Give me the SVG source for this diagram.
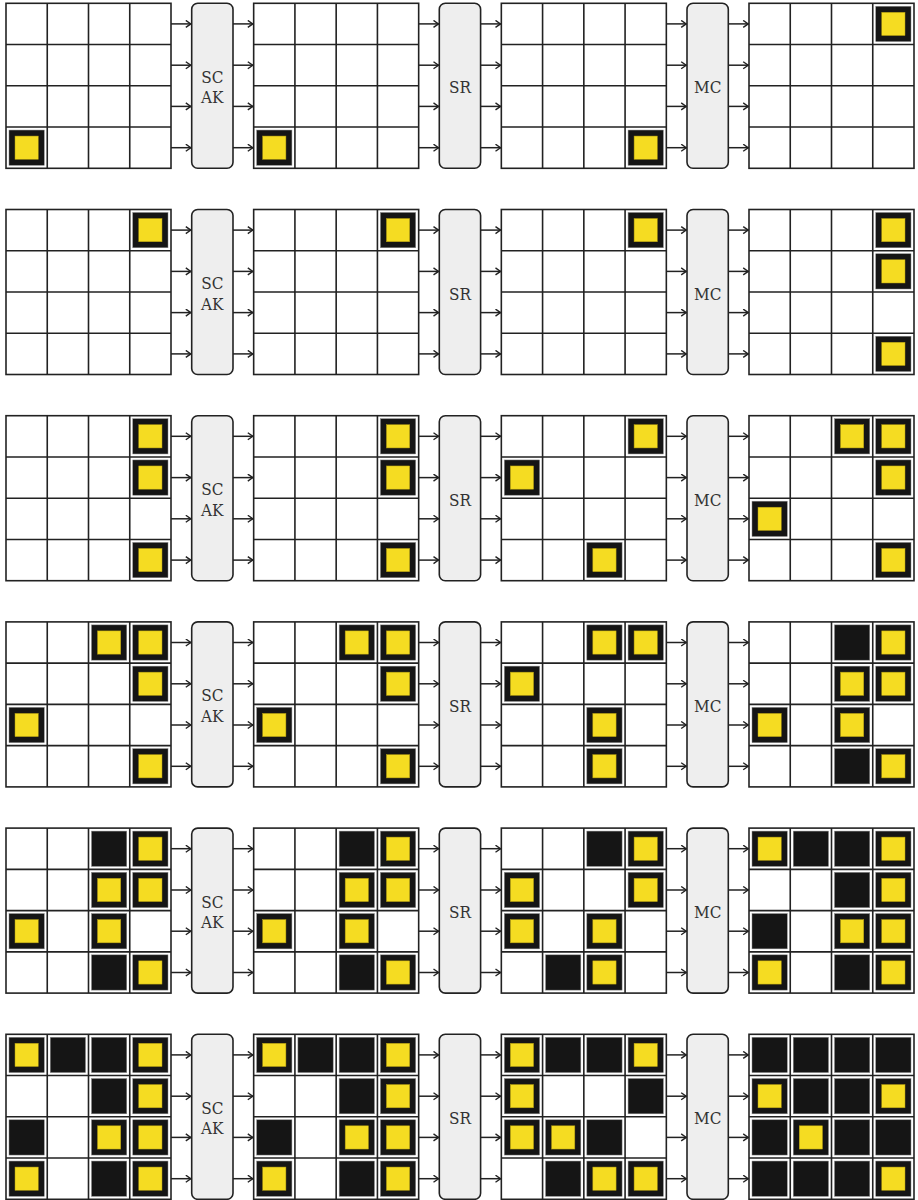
<svg xmlns="http://www.w3.org/2000/svg" xmlns:xlink="http://www.w3.org/1999/xlink" width="918" height="1200" viewBox="0 0 918 1200">
<style>
.gl{fill:none;stroke:#222;stroke-width:1.6}
.bg{fill:#fff}
.blk{fill:#151515;stroke:#888;stroke-width:0.5}
.yel{fill:#f5dc22;stroke:#b09a10;stroke-width:0.5}
.box{fill:#eeeeee;stroke:#222;stroke-width:1.6}
.lbl{font-family:"DejaVu Serif Condensed","DejaVu Serif",serif;font-size:17px;fill:#333;text-anchor:middle}
.ar{stroke:#222;stroke-width:1.5;fill:none;marker-end:url(#ah)}
</style>
<defs>
<marker id="ah" markerUnits="userSpaceOnUse" markerWidth="10" markerHeight="10" refX="6.5" refY="4" orient="auto">
<path d="M1,0.5 L6,4 L1,7.5" fill="none" stroke="#222" stroke-width="1.4"/>
</marker>
<g id="lines">
<rect class="gl" x="0" y="0" width="165" height="165"/>
<path class="gl" d="M41.25,0V165M82.5,0V165M123.75,0V165M0,41.25H165M0,82.5H165M0,123.75H165"/>
</g>
<g id="Y"><rect class="blk" x="3" y="3" width="35.25" height="35.25"/><rect class="yel" x="9" y="9" width="23.25" height="23.25"/></g>
<g id="B"><rect class="blk" x="3" y="3" width="35.25" height="35.25"/></g>
<g id="rowArrows">
<path class="ar" d="M171,20.6H191.3"/><path class="ar" d="M171,61.9H191.3"/><path class="ar" d="M171,103.1H191.3"/><path class="ar" d="M171,144.4H191.3"/>
<path class="ar" d="M233,20.6H253.3"/><path class="ar" d="M233,61.9H253.3"/><path class="ar" d="M233,103.1H253.3"/><path class="ar" d="M233,144.4H253.3"/>
<path class="ar" d="M418.7,20.6H439"/><path class="ar" d="M418.7,61.9H439"/><path class="ar" d="M418.7,103.1H439"/><path class="ar" d="M418.7,144.4H439"/>
<path class="ar" d="M480.7,20.6H501"/><path class="ar" d="M480.7,61.9H501"/><path class="ar" d="M480.7,103.1H501"/><path class="ar" d="M480.7,144.4H501"/>
<path class="ar" d="M666.3,20.6H686.7"/><path class="ar" d="M666.3,61.9H686.7"/><path class="ar" d="M666.3,103.1H686.7"/><path class="ar" d="M666.3,144.4H686.7"/>
<path class="ar" d="M728.3,20.6H748.7"/><path class="ar" d="M728.3,61.9H748.7"/><path class="ar" d="M728.3,103.1H748.7"/><path class="ar" d="M728.3,144.4H748.7"/>
</g>
</defs>
<rect width="918" height="1200" fill="#fff"/>

<g id="connectors">
<use href="#rowArrows" y="3.3"/>
<use href="#rowArrows" y="209.5"/>
<use href="#rowArrows" y="415.7"/>
<use href="#rowArrows" y="621.9"/>
<use href="#rowArrows" y="828.1"/>
<use href="#rowArrows" y="1034.3"/>
</g>

<!-- Row 1 -->
<g id="r1g1" transform="translate(6,3.3)"><rect class="bg" width="165" height="165"/><use href="#Y" x="0" y="123.75"/><use href="#lines"/></g>
<g id="r1sc" ><rect class="box" x="191.7" y="3.3" width="41.3" height="165" rx="6"/><text class="lbl"><tspan x="212.3" y="82.8">SC</tspan><tspan x="212.3" y="103.3">AK</tspan></text></g>
<g id="r1g2" transform="translate(253.67,3.3)"><rect class="bg" width="165" height="165"/><use href="#Y" x="0" y="123.75"/><use href="#lines"/></g>
<g id="r1sr"><rect class="box" x="439.3" y="3.3" width="41.3" height="165" rx="6"/><text class="lbl" x="460" y="93.3">SR</text></g>
<g id="r1g3" transform="translate(501.33,3.3)"><rect class="bg" width="165" height="165"/><use href="#Y" x="123.75" y="123.75"/><use href="#lines"/></g>
<g id="r1mc"><rect class="box" x="687" y="3.3" width="41.3" height="165" rx="6"/><text class="lbl" x="707.7" y="93.3">MC</text></g>
<g id="r1g4" transform="translate(749,3.3)"><rect class="bg" width="165" height="165"/><use href="#Y" x="123.75" y="0"/><use href="#lines"/></g>

<!-- Row 2 -->
<g id="r2g1" transform="translate(6,209.5)"><rect class="bg" width="165" height="165"/><use href="#Y" x="123.75" y="0"/><use href="#lines"/></g>
<g id="r2sc"><rect class="box" x="191.7" y="209.5" width="41.3" height="165" rx="6"/><text class="lbl"><tspan x="212.3" y="289">SC</tspan><tspan x="212.3" y="309.5">AK</tspan></text></g>
<g id="r2g2" transform="translate(253.67,209.5)"><rect class="bg" width="165" height="165"/><use href="#Y" x="123.75" y="0"/><use href="#lines"/></g>
<g id="r2sr"><rect class="box" x="439.3" y="209.5" width="41.3" height="165" rx="6"/><text class="lbl" x="460" y="299.5">SR</text></g>
<g id="r2g3" transform="translate(501.33,209.5)"><rect class="bg" width="165" height="165"/><use href="#Y" x="123.75" y="0"/><use href="#lines"/></g>
<g id="r2mc"><rect class="box" x="687" y="209.5" width="41.3" height="165" rx="6"/><text class="lbl" x="707.7" y="299.5">MC</text></g>
<g id="r2g4" transform="translate(749,209.5)"><rect class="bg" width="165" height="165"/><use href="#Y" x="123.75" y="0"/><use href="#Y" x="123.75" y="41.25"/><use href="#Y" x="123.75" y="123.75"/><use href="#lines"/></g>

<!-- Row 3 -->
<g id="r3g1" transform="translate(6,415.7)"><rect class="bg" width="165" height="165"/><use href="#Y" x="123.75" y="0"/><use href="#Y" x="123.75" y="41.25"/><use href="#Y" x="123.75" y="123.75"/><use href="#lines"/></g>
<g id="r3sc"><rect class="box" x="191.7" y="415.7" width="41.3" height="165" rx="6"/><text class="lbl"><tspan x="212.3" y="495.2">SC</tspan><tspan x="212.3" y="515.7">AK</tspan></text></g>
<g id="r3g2" transform="translate(253.67,415.7)"><rect class="bg" width="165" height="165"/><use href="#Y" x="123.75" y="0"/><use href="#Y" x="123.75" y="41.25"/><use href="#Y" x="123.75" y="123.75"/><use href="#lines"/></g>
<g id="r3sr"><rect class="box" x="439.3" y="415.7" width="41.3" height="165" rx="6"/><text class="lbl" x="460" y="505.7">SR</text></g>
<g id="r3g3" transform="translate(501.33,415.7)"><rect class="bg" width="165" height="165"/><use href="#Y" x="123.75" y="0"/><use href="#Y" x="0" y="41.25"/><use href="#Y" x="82.5" y="123.75"/><use href="#lines"/></g>
<g id="r3mc"><rect class="box" x="687" y="415.7" width="41.3" height="165" rx="6"/><text class="lbl" x="707.7" y="505.7">MC</text></g>
<g id="r3g4" transform="translate(749,415.7)"><rect class="bg" width="165" height="165"/><use href="#Y" x="82.5" y="0"/><use href="#Y" x="123.75" y="0"/><use href="#Y" x="123.75" y="41.25"/><use href="#Y" x="0" y="82.5"/><use href="#Y" x="123.75" y="123.75"/><use href="#lines"/></g>

<!-- Row 4 -->
<g id="r4g1" transform="translate(6,621.9)"><rect class="bg" width="165" height="165"/><use href="#Y" x="82.5" y="0"/><use href="#Y" x="123.75" y="0"/><use href="#Y" x="123.75" y="41.25"/><use href="#Y" x="0" y="82.5"/><use href="#Y" x="123.75" y="123.75"/><use href="#lines"/></g>
<g id="r4sc"><rect class="box" x="191.7" y="621.9" width="41.3" height="165" rx="6"/><text class="lbl"><tspan x="212.3" y="701.4">SC</tspan><tspan x="212.3" y="721.9">AK</tspan></text></g>
<g id="r4g2" transform="translate(253.67,621.9)"><rect class="bg" width="165" height="165"/><use href="#Y" x="82.5" y="0"/><use href="#Y" x="123.75" y="0"/><use href="#Y" x="123.75" y="41.25"/><use href="#Y" x="0" y="82.5"/><use href="#Y" x="123.75" y="123.75"/><use href="#lines"/></g>
<g id="r4sr"><rect class="box" x="439.3" y="621.9" width="41.3" height="165" rx="6"/><text class="lbl" x="460" y="711.9">SR</text></g>
<g id="r4g3" transform="translate(501.33,621.9)"><rect class="bg" width="165" height="165"/><use href="#Y" x="82.5" y="0"/><use href="#Y" x="123.75" y="0"/><use href="#Y" x="0" y="41.25"/><use href="#Y" x="82.5" y="82.5"/><use href="#Y" x="82.5" y="123.75"/><use href="#lines"/></g>
<g id="r4mc"><rect class="box" x="687" y="621.9" width="41.3" height="165" rx="6"/><text class="lbl" x="707.7" y="711.9">MC</text></g>
<g id="r4g4" transform="translate(749,621.9)"><rect class="bg" width="165" height="165"/><use href="#B" x="82.5" y="0"/><use href="#Y" x="123.75" y="0"/><use href="#Y" x="82.5" y="41.25"/><use href="#Y" x="123.75" y="41.25"/><use href="#Y" x="0" y="82.5"/><use href="#Y" x="82.5" y="82.5"/><use href="#B" x="82.5" y="123.75"/><use href="#Y" x="123.75" y="123.75"/><use href="#lines"/></g>

<!-- Row 5 -->
<g id="r5g1" transform="translate(6,828.1)"><rect class="bg" width="165" height="165"/><use href="#B" x="82.5" y="0"/><use href="#Y" x="123.75" y="0"/><use href="#Y" x="82.5" y="41.25"/><use href="#Y" x="123.75" y="41.25"/><use href="#Y" x="0" y="82.5"/><use href="#Y" x="82.5" y="82.5"/><use href="#B" x="82.5" y="123.75"/><use href="#Y" x="123.75" y="123.75"/><use href="#lines"/></g>
<g id="r5sc"><rect class="box" x="191.7" y="828.1" width="41.3" height="165" rx="6"/><text class="lbl"><tspan x="212.3" y="907.6">SC</tspan><tspan x="212.3" y="928.1">AK</tspan></text></g>
<g id="r5g2" transform="translate(253.67,828.1)"><rect class="bg" width="165" height="165"/><use href="#B" x="82.5" y="0"/><use href="#Y" x="123.75" y="0"/><use href="#Y" x="82.5" y="41.25"/><use href="#Y" x="123.75" y="41.25"/><use href="#Y" x="0" y="82.5"/><use href="#Y" x="82.5" y="82.5"/><use href="#B" x="82.5" y="123.75"/><use href="#Y" x="123.75" y="123.75"/><use href="#lines"/></g>
<g id="r5sr"><rect class="box" x="439.3" y="828.1" width="41.3" height="165" rx="6"/><text class="lbl" x="460" y="918.1">SR</text></g>
<g id="r5g3" transform="translate(501.33,828.1)"><rect class="bg" width="165" height="165"/><use href="#B" x="82.5" y="0"/><use href="#Y" x="123.75" y="0"/><use href="#Y" x="0" y="41.25"/><use href="#Y" x="123.75" y="41.25"/><use href="#Y" x="0" y="82.5"/><use href="#Y" x="82.5" y="82.5"/><use href="#B" x="41.25" y="123.75"/><use href="#Y" x="82.5" y="123.75"/><use href="#lines"/></g>
<g id="r5mc"><rect class="box" x="687" y="828.1" width="41.3" height="165" rx="6"/><text class="lbl" x="707.7" y="918.1">MC</text></g>
<g id="r5g4" transform="translate(749,828.1)"><rect class="bg" width="165" height="165"/><use href="#Y" x="0" y="0"/><use href="#B" x="41.25" y="0"/><use href="#B" x="82.5" y="0"/><use href="#Y" x="123.75" y="0"/><use href="#B" x="82.5" y="41.25"/><use href="#Y" x="123.75" y="41.25"/><use href="#B" x="0" y="82.5"/><use href="#Y" x="82.5" y="82.5"/><use href="#Y" x="123.75" y="82.5"/><use href="#Y" x="0" y="123.75"/><use href="#B" x="82.5" y="123.75"/><use href="#Y" x="123.75" y="123.75"/><use href="#lines"/></g>

<!-- Row 6 -->
<g id="r6g1" transform="translate(6,1034.3)"><rect class="bg" width="165" height="165"/><use href="#Y" x="0" y="0"/><use href="#B" x="41.25" y="0"/><use href="#B" x="82.5" y="0"/><use href="#Y" x="123.75" y="0"/><use href="#B" x="82.5" y="41.25"/><use href="#Y" x="123.75" y="41.25"/><use href="#B" x="0" y="82.5"/><use href="#Y" x="82.5" y="82.5"/><use href="#Y" x="123.75" y="82.5"/><use href="#Y" x="0" y="123.75"/><use href="#B" x="82.5" y="123.75"/><use href="#Y" x="123.75" y="123.75"/><use href="#lines"/></g>
<g id="r6sc"><rect class="box" x="191.7" y="1034.3" width="41.3" height="165" rx="6"/><text class="lbl"><tspan x="212.3" y="1113.8">SC</tspan><tspan x="212.3" y="1134.3">AK</tspan></text></g>
<g id="r6g2" transform="translate(253.67,1034.3)"><rect class="bg" width="165" height="165"/><use href="#Y" x="0" y="0"/><use href="#B" x="41.25" y="0"/><use href="#B" x="82.5" y="0"/><use href="#Y" x="123.75" y="0"/><use href="#B" x="82.5" y="41.25"/><use href="#Y" x="123.75" y="41.25"/><use href="#B" x="0" y="82.5"/><use href="#Y" x="82.5" y="82.5"/><use href="#Y" x="123.75" y="82.5"/><use href="#Y" x="0" y="123.75"/><use href="#B" x="82.5" y="123.75"/><use href="#Y" x="123.75" y="123.75"/><use href="#lines"/></g>
<g id="r6sr"><rect class="box" x="439.3" y="1034.3" width="41.3" height="165" rx="6"/><text class="lbl" x="460" y="1124.3">SR</text></g>
<g id="r6g3" transform="translate(501.33,1034.3)"><rect class="bg" width="165" height="165"/><use href="#Y" x="0" y="0"/><use href="#B" x="41.25" y="0"/><use href="#B" x="82.5" y="0"/><use href="#Y" x="123.75" y="0"/><use href="#Y" x="0" y="41.25"/><use href="#B" x="123.75" y="41.25"/><use href="#Y" x="0" y="82.5"/><use href="#Y" x="41.25" y="82.5"/><use href="#B" x="82.5" y="82.5"/><use href="#B" x="41.25" y="123.75"/><use href="#Y" x="82.5" y="123.75"/><use href="#Y" x="123.75" y="123.75"/><use href="#lines"/></g>
<g id="r6mc"><rect class="box" x="687" y="1034.3" width="41.3" height="165" rx="6"/><text class="lbl" x="707.7" y="1124.3">MC</text></g>
<g id="r6g4" transform="translate(749,1034.3)"><rect class="bg" width="165" height="165"/><use href="#B" x="0" y="0"/><use href="#B" x="41.25" y="0"/><use href="#B" x="82.5" y="0"/><use href="#B" x="123.75" y="0"/><use href="#Y" x="0" y="41.25"/><use href="#B" x="41.25" y="41.25"/><use href="#B" x="82.5" y="41.25"/><use href="#Y" x="123.75" y="41.25"/><use href="#B" x="0" y="82.5"/><use href="#Y" x="41.25" y="82.5"/><use href="#B" x="82.5" y="82.5"/><use href="#B" x="123.75" y="82.5"/><use href="#B" x="0" y="123.75"/><use href="#B" x="41.25" y="123.75"/><use href="#B" x="82.5" y="123.75"/><use href="#Y" x="123.75" y="123.75"/><use href="#lines"/></g>
</svg>
